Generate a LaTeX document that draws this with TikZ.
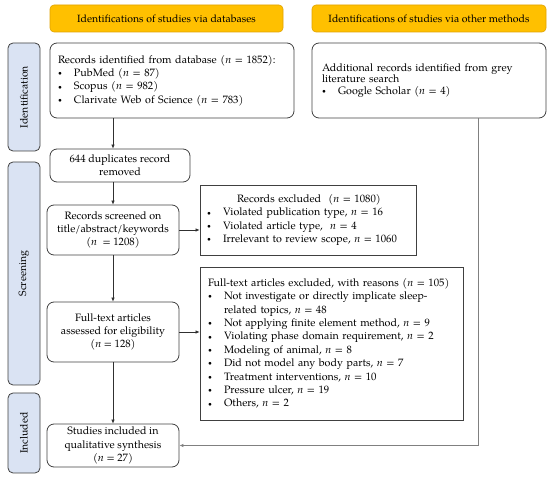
\documentclass[tikz,border=0pt]{standalone}
\usepackage{fontspec}
\setmainfont{TeX Gyre Pagella}
\usetikzlibrary{arrows.meta}
\definecolor{hdr}{HTML}{FFC000}
\definecolor{hdrline}{HTML}{E0A200}
\definecolor{side}{HTML}{DAE3F3}
\definecolor{boxline}{HTML}{404040}
\definecolor{conn}{HTML}{303030}
\definecolor{conntwo}{HTML}{808080}
\newcommand{\bul}{\makebox[16pt][l]{\raisebox{0.15ex}{\scriptsize\textbullet}}}
\newcommand{\nn}{\textit{n}}
\begin{document}
\begin{tikzpicture}[x=1pt,y=1pt,
  basebox/.style={draw=boxline, line width=0.8pt, inner sep=0pt, font=\fontsize{10.7}{13.4}\selectfont},
  rbox/.style={basebox, rounded corners=7pt},
  sbox/.style={basebox},
  header/.style={draw=hdrline, fill=hdr, rounded corners=4pt, line width=0.6pt, minimum height=27pt, font=\fontsize{10.5}{12}\selectfont, inner sep=0pt},
  phase/.style={draw=boxline, fill=side, rounded corners=5pt, line width=0.8pt, minimum height=32pt, rotate=90, font=\fontsize{10.5}{12}\selectfont, inner sep=0pt},
  arr/.style={draw=conn, line width=0.6pt, -{Latex[length=4pt,width=3.5pt]}},
  arrtwo/.style={draw=conntwo, line width=0.8pt, -{Latex[length=4pt,width=3.5pt]}},
]
\useasboundingbox (0,0) rectangle (550,-481);

% headers
\node[header, minimum width=233pt] (h1) at (166.5,-18.5) {Identifications of studies via databases};
\node[header, minimum width=234pt] (h2) at (429,-18.5) {Identifications of studies via other methods};

% phases
\node[phase, minimum width=108pt] (p1) at (24,-97) {Identification};
\node[phase, minimum width=223pt] (p2) at (24,-273.5) {Screening};
\node[phase, minimum width=80pt] (p3) at (24,-433) {Included};

% boxes
\node[rbox, minimum width=244pt, minimum height=75pt, text width=228pt, align=left] (b1) at (172,-80.5)
  {Records identified from database (\nn{} = 1852):\\
   \bul PubMed (\nn{} = 87)\\
   \bul Scopus (\nn{} = 982)\\
   \bul Clarivate Web of Science (\nn{} = 783)};

\node[rbox, minimum width=234pt, minimum height=75pt, text width=214pt, align=left, font=\fontsize{10.7}{11.5}\selectfont] (b2) at (429,-80.5)
  {Additional records identified from grey\\
   literature search\\
   \bul Google Scholar (\nn{} = 4)};

\node[rbox, minimum width=140pt, minimum height=33pt, align=center] (b3) at (120,-165.5)
  {644 duplicates record\\removed};

\node[rbox, minimum width=132pt, minimum height=50pt, align=center] (b4) at (113,-230)
  {Records screened on\\title/abstract/keywords\\(\nn{}\ \ = 1208)};

\node[sbox, minimum width=216pt, minimum height=70pt, text width=202pt, align=left] (b5) at (308,-220)
  {\hspace*{30pt}Records excluded\ \ (\nn{} = 1080)\\
   \bul Violated publication type, \nn{} = 16\\
   \bul Violated article type,\ \ \nn{} = 4\\
   \bul Irrelevant to review scope, \nn{} = 1060};

\node[rbox, minimum width=132pt, minimum height=60pt, align=center] (b6) at (113,-332)
  {Full-text articles\\assessed for eligibility\\(\nn{} = 128)};

\node[sbox, minimum width=263pt, minimum height=153pt, text width=247pt, align=left] (b7) at (331.5,-343.5)
  {\mbox{Full-text articles excluded, with reasons (\nn{} = 105)}\\
   \bul \mbox{Not investigate or directly implicate sleep-}\\
   \hspace*{16pt}related topics, \nn{} = 48\\
   \bul Not applying finite element method, \nn{} = 9\\
   \bul Violating phase domain requirement, \nn{} = 2\\
   \bul Modeling of animal, \nn{} = 8\\
   \bul Did not model any body parts, \nn{} = 7\\
   \bul Treatment interventions, \nn{} = 10\\
   \bul Pressure ulcer, \nn{} = 19\\
   \bul Others, \nn{} = 2};

\node[rbox, minimum width=132pt, minimum height=43pt, align=center] (b8) at (113,-445.5)
  {Studies included in\\qualitative synthesis\\(\nn{} = 27)};

% connectors
\coordinate (turn) at (478,-446);
\draw[arr] (b4.north |- b1.south) -- (b4.north |- b3.north);
\draw[arr] (b4.north |- b3.south) -- (b4.north);
\draw[arr] (b4.east) -- (b4.east -| b5.west);
\draw[arr] (b4.south) -- (b6.north);
\draw[arr] (b6.east) -- (b6.east -| b7.west);
\draw[arr] (b6.south) -- (b8.north);
\draw[arrtwo] (b2.south -| turn) |- (b8.east);
\end{tikzpicture}
\end{document}
